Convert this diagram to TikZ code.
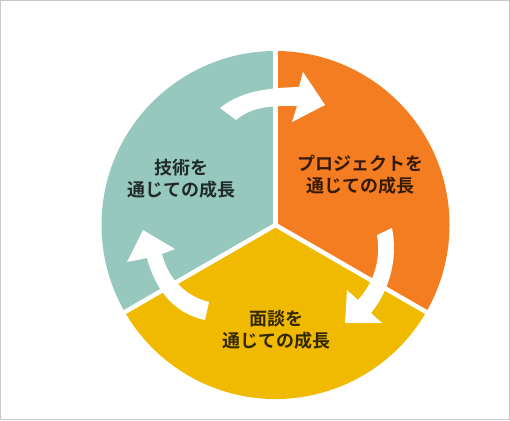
\documentclass[tikz,border=0pt]{standalone}
\usepackage{fontspec}
\newfontfamily\cjk{Noto Sans CJK JP}[BoldFont={Noto Sans CJK JP Bold}]
\definecolor{cteal}{RGB}{150,200,189}
\definecolor{corange}{RGB}{243,125,32}
\definecolor{cyellow}{RGB}{240,186,0}
\definecolor{cborder}{RGB}{200,200,200}
\tikzset{
  sector/.style={draw=none},
  divider/.style={draw=white, line width=4.5pt},
  cyclearrow/.style={fill=white, draw=none},
  label/.style={align=center, text=black, text opacity=0.78,
    font=\cjk\bfseries\fontsize{18}{22}\selectfont, inner sep=0pt}
}
\begin{document}
\begin{tikzpicture}[x=1pt,y=-1pt]
\useasboundingbox (0,0) rectangle (510,420);
\draw[cborder, line width=1pt] (0.5,0.5) rectangle (509.5,419.5);
\coordinate (c) at (275.5,225);
% sectors
\fill[cteal, sector] (c) -- ++(-90:174) arc[start angle=-90, end angle=-210, radius=174] -- cycle;
\fill[corange, sector] (c) -- ++(-90:174) arc[start angle=-90, end angle=30, radius=174] -- cycle;
\fill[cyellow, sector] (c) -- ++(30:174) arc[start angle=30, end angle=150, radius=174] -- cycle;
% dividers
\draw[divider] (c) -- ++(-90:176);
\draw[divider] (c) -- ++(30:176);
\draw[divider] (c) -- ++(150:176);
% arrows
\fill[cyclearrow] (220,108) .. controls (238,94) and (258,88) .. (299,87) -- (303,72) -- (325,105) -- (292,122) -- (297,106) .. controls (262,105) and (248,110) .. (236,120) -- cycle;
\fill[cyclearrow] (392,228) .. controls (398,258) and (390,290) .. (371,313) -- (382,323) -- (345,323) -- (347,290) -- (358,300) .. controls (374,282) and (381,260) .. (377,235) -- cycle;
\fill[cyclearrow] (143,230) -- (175,249) -- (162,254) .. controls (168,278) and (185,296) .. (209,302) -- (205,320) .. controls (176,314) and (156,292) .. (147,258) -- (127,262) -- cycle;
% labels
\node[label] (tech) at (181,179) {技術を\\通じての成長};
\node[label] (proj) at (360.7,175) {プロジェクトを\\通じての成長};
\node[label] (talk) at (276.3,329.7) {面談を\\通じての成長};
\end{tikzpicture}
\end{document}
